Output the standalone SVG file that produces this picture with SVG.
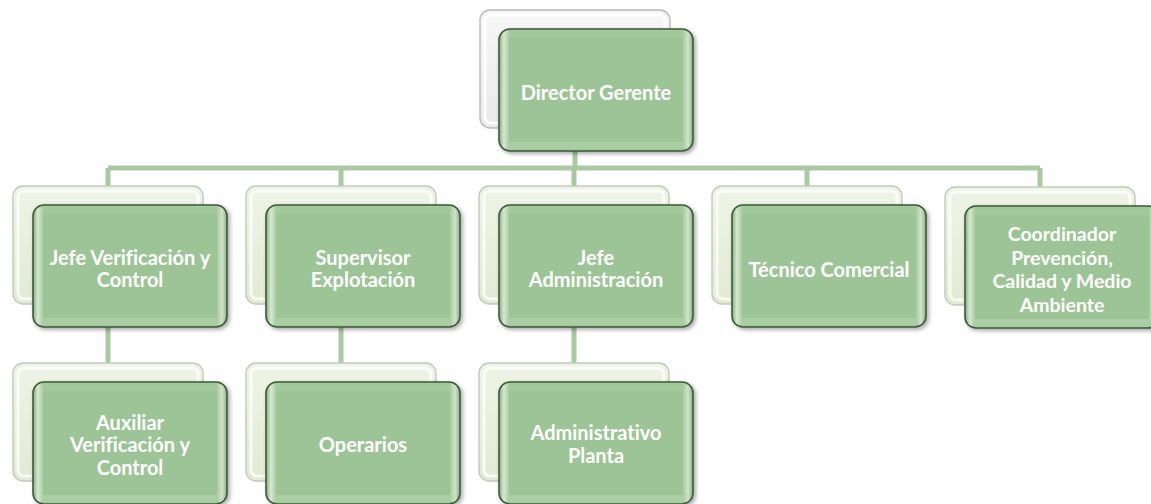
<svg xmlns="http://www.w3.org/2000/svg" xmlns:xlink="http://www.w3.org/1999/xlink" width="1151" height="504" viewBox="0 0 1151 504">
<style>
.lbl{font-family:Lato,"Liberation Sans",sans-serif;font-weight:bold;font-size:20px;fill:#ffffff;text-anchor:middle;font-variant-ligatures:none}
.sm{font-size:19.5px}
.con{stroke:#a9c9a2;stroke-width:5;fill:none}
</style>
<defs>
<linearGradient id="gh" x1="0" y1="0" x2="1" y2="0">
<stop offset="0" stop-color="#86ad80"/>
<stop offset="0.025" stop-color="#d6e9d1"/>
<stop offset="0.055" stop-color="#a3c89c"/>
<stop offset="0.945" stop-color="#a3c89c"/>
<stop offset="0.975" stop-color="#cfe4ca"/>
<stop offset="1" stop-color="#86ad80"/>
</linearGradient>
<linearGradient id="gb" x1="0" y1="0" x2="0" y2="1">
<stop offset="0" stop-color="#eef4e6"/>
<stop offset="1" stop-color="#e1ebd3"/>
</linearGradient>
<linearGradient id="gw" x1="0" y1="0" x2="0" y2="1">
<stop offset="0" stop-color="#f7f7f7"/>
<stop offset="1" stop-color="#e9e9e9"/>
</linearGradient>
<filter id="sh" x="-10%" y="-10%" width="125%" height="125%">
<feDropShadow dx="2" dy="2" stdDeviation="2" flood-color="#000" flood-opacity="0.35"/>
</filter>
<g id="front">
<rect x="0" y="0" width="194" height="122" rx="11" fill="url(#gh)" stroke="#3e5a3b" stroke-width="1.6" filter="url(#sh)"/>
<rect x="10" y="9" width="174" height="104" rx="2" fill="#9dc496"/>
<rect x="10" y="113" width="174" height="7" fill="#abcda4"/>
</g>
<g id="back">
<rect x="0" y="0" width="190" height="118" rx="10" fill="url(#gb)" stroke="#c2cab9" stroke-width="1.4"/>
<rect x="5" y="5" width="180" height="108" rx="6" fill="none" stroke="#ffffff" stroke-opacity="0.75" stroke-width="3"/>
</g>
<g id="backw">
<rect x="0" y="0" width="190" height="118" rx="10" fill="url(#gw)" stroke="#b9b9b9" stroke-width="1.4"/>
<rect x="5" y="5" width="180" height="108" rx="6" fill="none" stroke="#ffffff" stroke-opacity="0.85" stroke-width="3"/>
</g>
</defs>
<rect width="1151" height="504" fill="#ffffff"/>
<g id="connectors">
<path class="con" d="M575 150 V168"/>
<path class="con" d="M108 168 H1040"/>
<path class="con" d="M108 168 V187 M341 168 V187 M574 168 V187 M807 168 V187 M1040 168 V187"/>
<path class="con" d="M108 326 V364 M341 326 V364 M574 326 V364"/>
</g>
<g id="n-director">
<use xlink:href="#backw" x="480" y="10"/>
<use xlink:href="#front" x="499" y="29"/>
<text class="lbl" x="596" y="100">Director Gerente</text>
</g>
<g id="n-jefe-verif">
<use xlink:href="#back" x="13" y="186"/>
<use xlink:href="#front" x="33" y="205"/>
<text class="lbl" x="130" y="265">Jefe Verificación y</text>
<text class="lbl" x="130" y="287">Control</text>
</g>
<g id="n-supervisor">
<use xlink:href="#back" x="246" y="186"/>
<use xlink:href="#front" x="266" y="205"/>
<text class="lbl" x="363" y="265">Supervisor</text>
<text class="lbl" x="363" y="287">Explotación</text>
</g>
<g id="n-jefe-admin">
<use xlink:href="#back" x="479" y="186"/>
<use xlink:href="#front" x="499" y="205"/>
<text class="lbl" x="596" y="265">Jefe</text>
<text class="lbl" x="596" y="287">Administración</text>
</g>
<g id="n-tecnico">
<use xlink:href="#back" x="712" y="186"/>
<use xlink:href="#front" x="732" y="205"/>
<text class="lbl" x="829" y="277">Técnico Comercial</text>
</g>
<g id="n-coordinador">
<use xlink:href="#back" x="945" y="187"/>
<use xlink:href="#front" x="965" y="206"/>
<text class="lbl sm" x="1062" y="241">Coordinador</text>
<text class="lbl sm" x="1062" y="264.5">Prevención,</text>
<text class="lbl sm" x="1062" y="288">Calidad y Medio</text>
<text class="lbl sm" x="1062" y="311.5">Ambiente</text>
</g>
<g id="n-auxiliar">
<use xlink:href="#back" x="13" y="363"/>
<use xlink:href="#front" x="33" y="382"/>
<text class="lbl" x="130" y="430">Auxiliar</text>
<text class="lbl" x="130" y="452">Verificación y</text>
<text class="lbl" x="130" y="475">Control</text>
</g>
<g id="n-operarios">
<use xlink:href="#back" x="246" y="363"/>
<use xlink:href="#front" x="266" y="382"/>
<text class="lbl" x="363" y="452">Operarios</text>
</g>
<g id="n-administrativo">
<use xlink:href="#back" x="479" y="363"/>
<use xlink:href="#front" x="499" y="382"/>
<text class="lbl" x="596" y="440">Administrativo</text>
<text class="lbl" x="596" y="463">Planta</text>
</g>
</svg>
